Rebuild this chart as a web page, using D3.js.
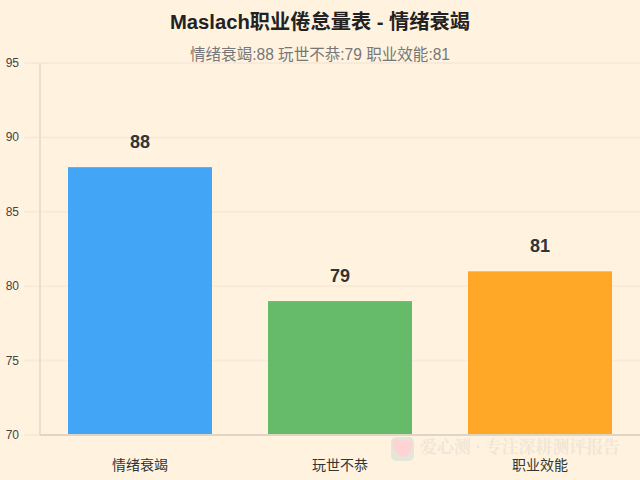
<!DOCTYPE html>
<html><head><meta charset="utf-8">
<script src="https://cdn.jsdelivr.net/npm/d3@7/dist/d3.min.js"></script>
<style>html,body{margin:0;padding:0;background:#fff3e0}svg{display:block}</style>
</head><body><svg id="c" width="640" height="480"></svg>
<script>
const categories=["情绪衰竭","玩世不恭","职业效能"];
const values=[88,79,81];
const colors=["#42a5f5","#66bb6a","#ffa726"];
const yTicks=[70,75,80,85,90,95];
const titleText="Maslach职业倦怠量表 - 情绪衰竭";
const subtitleText="情绪衰竭:88 玩世不恭:79 职业效能:81";
const watermarkText="爱心测 · 专注深耕测评报告";
const FONT='"Liberation Sans","Noto Sans CJK SC",sans-serif';
const svg=d3.select("#c").style("font-family",FONT);
svg.append("rect").attr("width",640).attr("height",480).attr("fill","#fff3e0");
const x=d3.scaleBand().domain(categories).range([40,640]).paddingInner(0).paddingOuter(0);
const y=d3.scaleLinear().domain([70,95]).range([435,63]);
svg.append("g").selectAll("line").data(yTicks).join("line")
 .attr("x1",24).attr("x2",640).attr("y1",d=>y(d)).attr("y2",d=>y(d))
 .attr("stroke","#f8ead8").attr("stroke-width",2);
svg.append("g").selectAll("text").data(yTicks).join("text")
 .attr("x",19).attr("y",d=>y(d)+4).attr("text-anchor","end").attr("font-size",12).attr("fill","#444").text(d=>d);
const bw=x.bandwidth()*0.72;
svg.append("g").selectAll("rect").data(values).join("rect")
 .attr("x",(d,i)=>x(categories[i])+(x.bandwidth()-bw)/2).attr("width",bw)
 .attr("y",d=>y(d)).attr("height",d=>y(70)-y(d)).attr("fill",(d,i)=>colors[i]);
svg.append("line").attr("x1",40).attr("x2",40).attr("y1",63).attr("y2",435).attr("stroke","#eadfce").attr("stroke-width",2);
svg.append("line").attr("x1",40).attr("x2",640).attr("y1",435).attr("y2",435).attr("stroke","#e0d5c5").attr("stroke-width",2);
svg.append("g").selectAll("text").data(values).join("text")
 .attr("x",(d,i)=>x(categories[i])+x.bandwidth()/2).attr("y",d=>y(d)-19).attr("text-anchor","middle")
 .attr("font-size",18).attr("font-weight","bold").attr("fill","#333").text(d=>d);
svg.append("g").selectAll("text").data(categories).join("text")
 .attr("x",d=>x(d)+x.bandwidth()/2).attr("y",470).attr("text-anchor","middle").attr("font-size",14).attr("fill","#333").text(d=>d);
svg.append("text").attr("x",320).attr("y",29).attr("text-anchor","middle").attr("font-size",20).attr("font-weight","bold").attr("fill","#222")
 .attr("textLength",300).attr("lengthAdjust","spacingAndGlyphs").text(titleText);
svg.append("text").attr("x",320).attr("y",60).attr("text-anchor","middle").attr("font-size",16).attr("fill","#777")
 .attr("textLength",260).attr("lengthAdjust","spacingAndGlyphs").text(subtitleText);
const wm=svg.append("g");
wm.append("rect").attr("x",391).attr("y",437).attr("width",23).attr("height",24).attr("rx",5).attr("fill","#e6e6d8");
wm.append("path").attr("d","M403 458 C397 453 392 449 392.5 443.5 C393 439 399 438.5 402 442 C405 438.5 412 439 412.5 444 C413 450 408 454 403 458 Z").attr("fill","#ffd3d3");
wm.append("text").attr("x",420).attr("y",453).attr("font-size",17).attr("font-weight","bold").attr("fill","#f0e6d6")
 .attr("font-family",'"Noto Serif CJK SC","Noto Sans CJK SC",serif').attr("textLength",200).text(watermarkText);
</script></body></html>
